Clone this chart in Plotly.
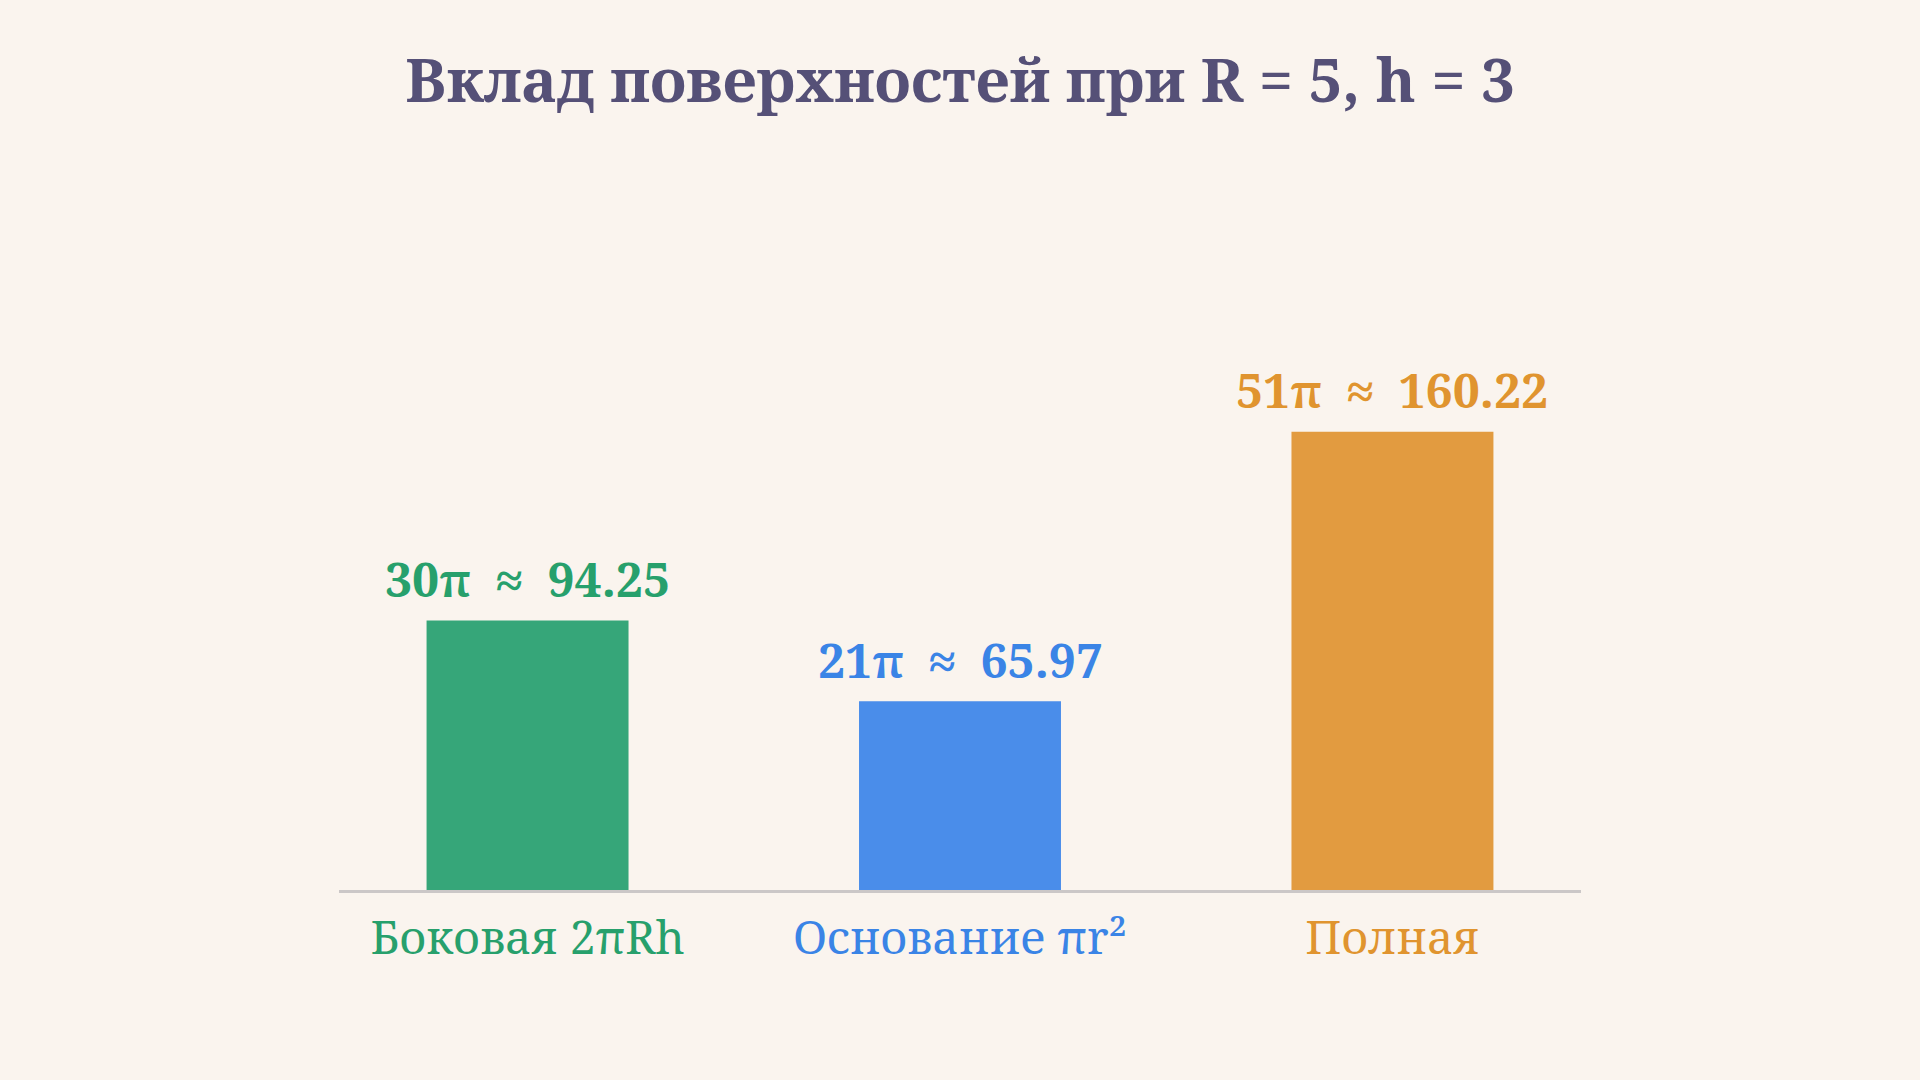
import plotly.graph_objects as go

categories = ["Боковая 2πRh", "Основание πr²", "Полная"]
values = [94.25, 65.97, 160.22]
value_labels = ["30π  ≈  94.25", "21π  ≈  65.97", "51π  ≈  160.22"]
bar_colors = ["#36A679", "#4A8DEA", "#E29B40"]
text_colors = ["#27A06C", "#3A84E6", "#E0942F"]
title_text = "Вклад поверхностей при R = 5, h = 3"

FONT = "Noto Serif, serif"
BG = "#FAF4EE"
xs = list(range(len(categories)))

fig = go.Figure()
fig.add_trace(go.Bar(
    x=xs, y=values, width=0.467,
    marker=dict(color=bar_colors, line=dict(width=0)),
    hoverinfo="skip",
))

for x, v, t, c in zip(xs, values, value_labels, text_colors):
    fig.add_annotation(
        x=x, y=v, xref="x", yref="y", text=f"<b>{t}</b>",
        showarrow=False, yanchor="middle", yshift=42,
        font=dict(family=FONT, size=48, color=c),
    )

ticktext = [f"<span style='color:{c}'>{t}</span>" for t, c in zip(categories, text_colors)]

fig.update_layout(
    width=1920, height=1080,
    paper_bgcolor=BG, plot_bgcolor=BG,
    margin=dict(l=339, r=339, t=318, b=190, pad=0),
    showlegend=False,
    title=dict(
        text=f"<b>{title_text}</b>", x=0.5, xanchor="center",
        y=1 - 81 / 1080, yanchor="middle", yref="container",
        font=dict(family=FONT, size=60, color="#555077"),
    ),
    font=dict(family=FONT),
    xaxis=dict(
        range=[-0.436, 2.436], tickvals=xs, ticktext=ticktext,
        showgrid=False, zeroline=False, showline=True,
        linecolor="#CBC7C7", linewidth=3, ticks="",
        tickfont=dict(family=FONT, size=46),
        ticklabelstandoff=6,
    ),
    yaxis=dict(range=[0, 200], visible=False, showgrid=False, zeroline=False),
)

fig.write_html(
    "out.html",
    config={"displayModeBar": False},
    post_script=f"document.body.style.margin='0';document.body.style.background='{BG}';",
)
